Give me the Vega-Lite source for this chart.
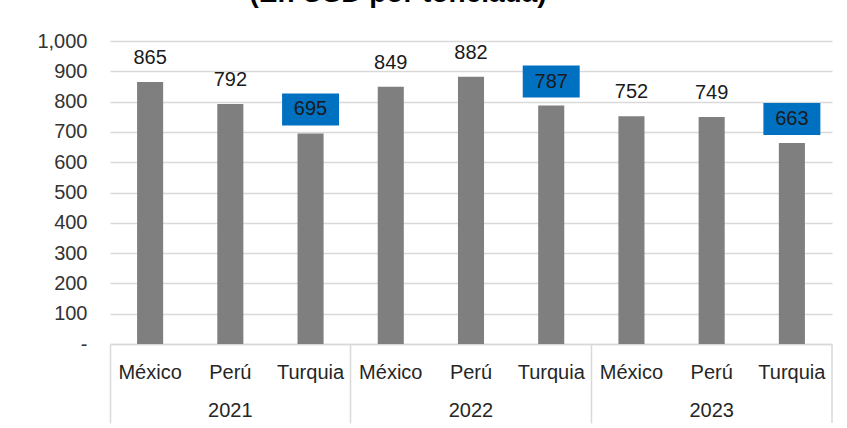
{
  "$schema": "https://vega.github.io/schema/vega-lite/v6.json",
  "width": 722,
  "height": 303,
  "autosize": "none",
  "padding": {"left": 110, "top": 41, "right": 15, "bottom": 84},
  "background": "#ffffff",
  "title": {
    "text": "(En USD por tonelada)",
    "font": "Liberation Sans",
    "fontSize": 28,
    "fontWeight": "bold",
    "color": "#000000",
    "anchor": "middle",
    "dx": -73,
    "dy": 21,
    "baseline": "alphabetic",
    "offset": 22
  },
  "config": {
    "view": {"stroke": null}
  },
  "data": {
    "values": [
      {"grupo": "2021 México", "year": "2021", "country": "México", "value": 865},
      {"grupo": "2021 Perú", "year": "2021", "country": "Perú", "value": 792},
      {"grupo": "2021 Turquia", "year": "2021", "country": "Turquia", "value": 695},
      {"grupo": "2022 México", "year": "2022", "country": "México", "value": 849},
      {"grupo": "2022 Perú", "year": "2022", "country": "Perú", "value": 882},
      {"grupo": "2022 Turquia", "year": "2022", "country": "Turquia", "value": 787},
      {"grupo": "2023 México", "year": "2023", "country": "México", "value": 752},
      {"grupo": "2023 Perú", "year": "2023", "country": "Perú", "value": 749},
      {"grupo": "2023 Turquia", "year": "2023", "country": "Turquia", "value": 663}
    ]
  },
  "encoding": {
    "x": {
      "field": "grupo",
      "type": "nominal",
      "sort": null,
      "scale": {"paddingInner": 0, "paddingOuter": 0},
      "axis": {
        "title": null,
        "labelAngle": 0,
        "domainColor": "#d9d9d9",
        "domainWidth": 1.5,
        "bandPosition": 0,
        "tickColor": "#d9d9d9",
        "tickWidth": 1.5,
        "tickSize": 79,
        "tickOpacity": {"condition": {"test": "indexof(datum.value,'México')>=0", "value": 1}, "value": 0},
        "labelExpr": "[split(datum.value,' ')[1], indexof(datum.value,'Perú')>=0 ? split(datum.value,' ')[0] : '']",
        "labelPadding": -61,
        "labelLineHeight": 38,
        "labelFontSize": 20,
        "labelFont": "Liberation Sans",
        "labelColor": "#262626",
        "labelOverlap": false,
        "labelBound": false,
        "labelBaseline": "top"
      }
    },
    "y": {
      "field": "value",
      "type": "quantitative",
      "scale": {"domain": [0, 1000], "nice": false},
      "axis": {
        "title": null,
        "values": [0, 100, 200, 300, 400, 500, 600, 700, 800, 900, 1000],
        "labelExpr": "datum.value == 0 ? '-' : format(datum.value, ',')",
        "domain": false,
        "ticks": false,
        "grid": true,
        "gridColor": "#d9d9d9",
        "gridWidth": 1.5,
        "labelPadding": 23,
        "labelFontSize": 20,
        "labelFont": "Liberation Sans",
        "labelColor": "#333333"
      }
    }
  },
  "layer": [
    {
      "mark": {"type": "bar", "color": "#7f7f7f", "width": {"band": 0.325}}
    },
    {
      "transform": [{"filter": "datum.grupo == '2023 Turquia'"}],
      "mark": {"type": "rule", "color": "#d9d9d9", "strokeWidth": 1.5, "clip": false},
      "encoding": {
        "x": {"field": "grupo", "type": "nominal", "sort": null, "bandPosition": 1},
        "y": {"datum": 0},
        "y2": {"datum": -261}
      }
    },
    {
      "transform": [{"filter": "datum.country == 'Turquia'"}],
      "mark": {
        "type": "point",
        "shape": "M-0.89,-0.5H0.89V0.5H-0.89Z",
        "size": 4096,
        "filled": true,
        "fill": "#0070c0",
        "opacity": 1,
        "strokeWidth": 0,
        "yOffset": -24
      }
    },
    {
      "mark": {
        "type": "text",
        "baseline": "middle",
        "dy": -24,
        "fontSize": 20,
        "font": "Liberation Sans",
        "color": "#1a1a1a"
      },
      "encoding": {"text": {"field": "value", "type": "quantitative"}}
    }
  ]
}
